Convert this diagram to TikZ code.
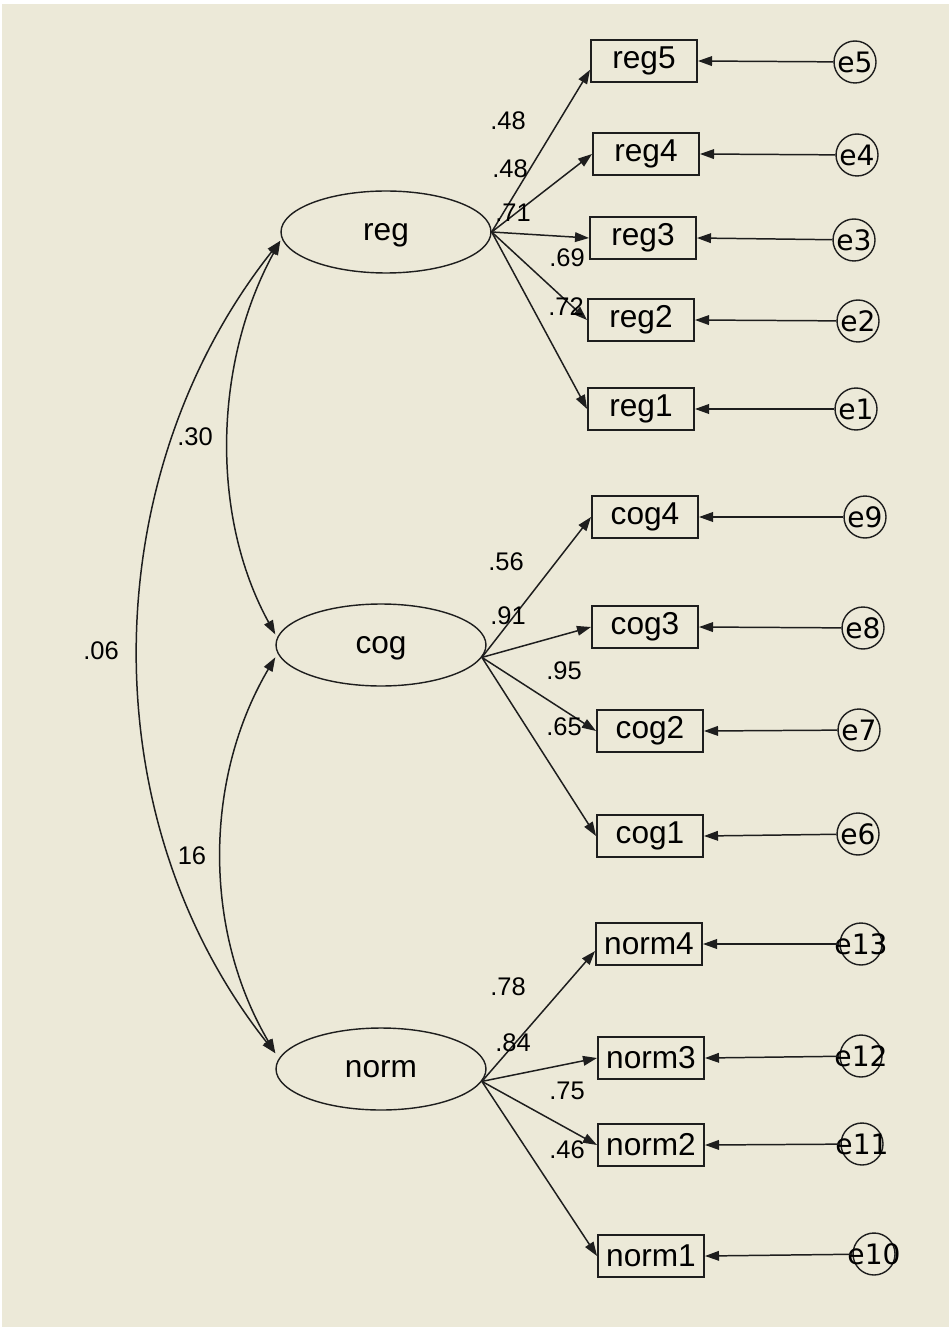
\documentclass[tikz,border=0pt]{standalone}
\usepackage{fontspec}
\setmainfont{Liberation Sans}
\newfontfamily\errfont{DejaVu Sans}
\usetikzlibrary{arrows.meta,shapes.geometric}
\definecolor{amosBg}{HTML}{ECE9D8}
\definecolor{lineGray}{HTML}{1E1E1E}

\begin{document}
\begin{tikzpicture}[x=0.02cm, y=-0.02cm,
    lat/.style={draw=lineGray, ellipse, line width=0.8pt, minimum width=4.2cm, minimum height=1.64cm, inner sep=0pt, text depth=0pt, font=\fontsize{18}{20}\selectfont},
    ind/.style={draw=lineGray, line width=1.1pt, minimum width=2.12cm, minimum height=0.84cm, inner sep=0pt, font=\fontsize{18}{20}\selectfont},
    err/.style={draw=lineGray, circle, line width=0.8pt, minimum size=0.84cm, inner sep=0pt, font=\errfont\fontsize{16}{18}\selectfont},
    coef/.style={inner sep=0pt, font=\fontsize{14.5}{16}\selectfont},
    arr/.style={-{Triangle[length=8pt,width=5.5pt]}, line width=0.85pt, draw=lineGray},
    cov/.style={{Triangle[length=8pt,width=5.5pt]}-{Triangle[length=8pt,width=5.5pt]}, line width=0.85pt, draw=lineGray}
  ]
    \useasboundingbox (0,0) rectangle (951,1327);
    \fill[white] (0,0) rectangle (951,1327);
    \fill[amosBg] (2,4) rectangle (949,1327);

    % latent factors
    \node[lat] (reg) at (386,232) {reg};
    \node[lat] (cog) at (381,645) {cog};
    \node[lat] (norm) at (381,1069) {norm};

    % indicators
    \node[ind] (reg5) at (644,61) {reg5};
    \node[ind] (reg4) at (646,154) {reg4};
    \node[ind] (reg3) at (643,238) {reg3};
    \node[ind] (reg2) at (641,320) {reg2};
    \node[ind] (reg1) at (641,409) {reg1};
    \node[ind] (cog4) at (645,517) {cog4};
    \node[ind] (cog3) at (645,627) {cog3};
    \node[ind] (cog2) at (650,731) {cog2};
    \node[ind] (cog1) at (650,836) {cog1};
    \node[ind] (norm4) at (649,944) {norm4};
    \node[ind] (norm3) at (651,1058) {norm3};
    \node[ind] (norm2) at (651,1145) {norm2};
    \node[ind] (norm1) at (651,1256) {norm1};

    % error terms
    \node[err] (e5) at (855,62) {\makebox[0pt]{e5}};
    \node[err] (e4) at (857,155) {\makebox[0pt]{e4}};
    \node[err] (e3) at (854,240) {\makebox[0pt]{e3}};
    \node[err] (e2) at (858,321) {\makebox[0pt]{e2}};
    \node[err] (e1) at (856,409) {\makebox[0pt]{e1}};
    \node[err] (e9) at (865,517) {\makebox[0pt]{e9}};
    \node[err] (e8) at (863,628) {\makebox[0pt]{e8}};
    \node[err] (e7) at (859,730) {\makebox[0pt]{e7}};
    \node[err] (e6) at (858,834) {\makebox[0pt]{e6}};
    \node[err] (e13) at (861,944) {\makebox[0pt]{e13}};
    \node[err] (e12) at (861,1056) {\makebox[0pt]{e12}};
    \node[err] (e11) at (862,1144) {\makebox[0pt]{e11}};
    \node[err] (e10) at (874,1254) {\makebox[0pt]{e10}};

    % loadings
    \draw[arr] (reg.east) -- ([yshift=-5pt]reg5.west);
    \draw[arr] (reg.east) -- (reg4.west);
    \draw[arr] (reg.east) -- (reg3.west);
    \draw[arr] (reg.east) -- (reg2.west);
    \draw[arr] (reg.east) -- (reg1.west);
    \draw[arr] (cog.-7) -- (cog4.west);
    \draw[arr] (cog.-7) -- (cog3.west);
    \draw[arr] (cog.-7) -- (cog2.west);
    \draw[arr] (cog.-7) -- (cog1.west);
    \draw[arr] (norm.-7) -- ([yshift=-4pt]norm4.west);
    \draw[arr] (norm.-7) -- (norm3.west);
    \draw[arr] (norm.-7) -- (norm2.west);
    \draw[arr] (norm.-7) -- (norm1.west);

    % residuals
    \draw[arr] (e5) -- (reg5.east);
    \draw[arr] (e4) -- (reg4.east);
    \draw[arr] (e3) -- (reg3.east);
    \draw[arr] (e2) -- (reg2.east);
    \draw[arr] (e1) -- (reg1.east);
    \draw[arr] (e9) -- (cog4.east);
    \draw[arr] (e8) -- (cog3.east);
    \draw[arr] (e7) -- (cog2.east);
    \draw[arr] (e6) -- (cog1.east);
    \draw[arr] (e13) -- (norm4.east);
    \draw[arr] (e12) -- (norm3.east);
    \draw[arr] (e11) -- (norm2.east);
    \draw[arr] (e10) -- (norm1.east);

    % covariances
    \draw[cov] ([yshift=-5pt]reg.west) .. controls +(-66,120) and +(-66,-120) .. ([yshift=6pt]cog.west);
    \draw[cov] ([yshift=-7pt]cog.west) .. controls +(-72,122) and +(-72,-122) .. ([yshift=9pt]norm.west);
    \draw[cov] ([yshift=-5pt]reg.west) .. controls +(-186,235) and +(-186,-235) .. ([yshift=9pt]norm.west);

    % estimates
    \node[coef] (l1) at (508,121) {.48};
    \node[coef] (l2) at (510,169) {.48};
    \node[coef] (l3) at (513,213) {.71};
    \node[coef] (l4) at (567,258) {.69};
    \node[coef] (l5) at (566,307) {.72};
    \node[coef] (l6) at (506,562) {.56};
    \node[coef] (l7) at (508,616) {.91};
    \node[coef] (l8) at (564,671) {.95};
    \node[coef] (l9) at (564,727) {.65};
    \node[coef] (l10) at (508,987) {.78};
    \node[coef] (l11) at (513,1043) {.84};
    \node[coef] (l12) at (567,1091) {.75};
    \node[coef] (l13) at (567,1150) {.46};
    \node[coef] (c1) at (195,437) {.30};
    \node[coef] (c2) at (101,651) {.06};
    \node[coef] (c3) at (192,856) {16};
  \end{tikzpicture}
\end{document}
